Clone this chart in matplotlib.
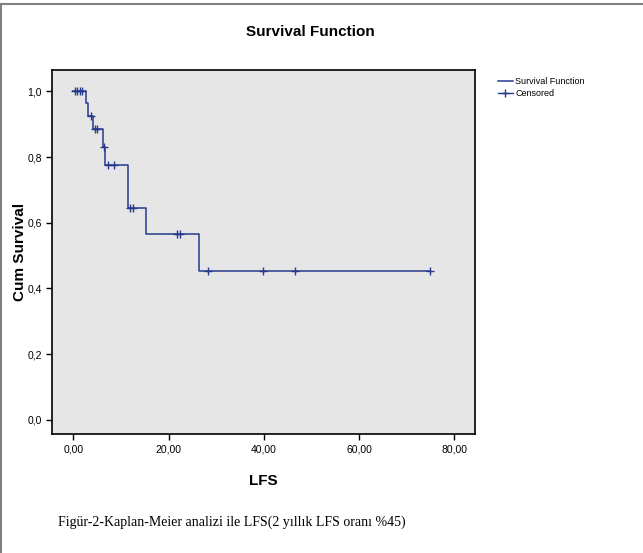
import numpy as np
import matplotlib.pyplot as plt
from matplotlib.lines import Line2D

# step curve (time of event, survival after event)
event_t = [0, 2.6, 3.1, 4.1, 6.2, 6.7, 11.4, 15.3, 26.3]
surv = [1.0, 0.964, 0.925, 0.885, 0.83, 0.775, 0.645, 0.565, 0.452]
t_end = 75.0

# censored observations
cens_t = [0.3, 0.8, 1.3, 1.8, 3.7, 4.6, 5.0, 6.4, 7.3, 8.6, 11.9, 12.5,
          21.7, 22.4, 28.2, 39.8, 46.6, 75.0]

xticks = [0, 20, 40, 60, 80]
xticklabels = ['0,00', '20,00', '40,00', '60,00', '80,00']
yticks = [0.0, 0.2, 0.4, 0.6, 0.8, 1.0]
yticklabels = ['0,0', '0,2', '0,4', '0,6', '0,8', '1,0']

plt.rcParams['font.family'] = ['Liberation Sans', 'DejaVu Sans']
line_col = '#26398a'

fig = plt.figure(figsize=(6.43, 5.53), dpi=100)
ax = fig.add_axes([0.081, 0.215, 0.658, 0.658])
ax.set_facecolor('#e6e6e6')

tt = event_t + [t_end]
ss = surv + [surv[-1]]
ax.step(tt, ss, where='post', color=line_col, lw=1.1)

cens_s = [surv[np.searchsorted(event_t, c, side='right') - 1] for c in cens_t]
ax.plot(cens_t, cens_s, ls='none', marker='+', ms=6, mew=1.0, color=line_col)

ax.set_xlim(-4.5, 84.4)
ax.set_ylim(-0.043, 1.064)
ax.set_xticks(xticks)
ax.set_xticklabels(xticklabels, fontsize=7.5)
ax.set_yticks(yticks)
ax.set_yticklabels(yticklabels, fontsize=7.5)
ax.tick_params(direction='out', length=4, width=1, color='black')
for sp in ax.spines.values():
    sp.set_linewidth(1.2)

ax.set_xlabel('LFS', fontsize=11, fontweight='bold', labelpad=14)
ax.set_ylabel('Cum Survival', fontsize=11, fontweight='bold')
ax.yaxis.set_label_coords(-0.06, 0.5)
fig.text(0.482, 0.942, 'Survival Function', ha='center', va='center',
         fontsize=11, fontweight='bold')

handles = [Line2D([], [], color=line_col, lw=1.1),
           Line2D([], [], color=line_col, ls='-', lw=1.0, marker='+', ms=6)]
fig.legend(handles, ['Survival Function', 'Censored'], loc='upper left',
           bbox_to_anchor=(0.762, 0.875), frameon=False, fontsize=6.5,
           handlelength=1.6, handletextpad=0.3, labelspacing=0.3)

fig.text(0.09, 0.05, 'Figür-2-Kaplan-Meier analizi ile LFS(2 yıllık LFS oranı %45)',
         fontsize=10, family=['Liberation Serif', 'DejaVu Serif'])

# outer frame of the page
fig.add_artist(Line2D([0, 1], [0.992, 0.992], color='#808080', lw=1.5,
                      transform=fig.transFigure))
fig.add_artist(Line2D([0.002, 0.002], [0, 0.992], color='#808080', lw=1.5,
                      transform=fig.transFigure))

fig.savefig('out.png', dpi=100)
